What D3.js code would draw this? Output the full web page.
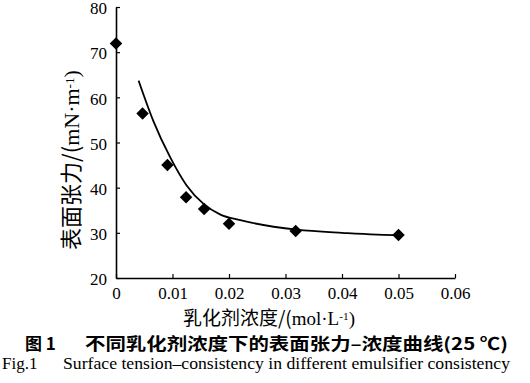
<!DOCTYPE html>
<html><head><meta charset="utf-8">
<script src="https://cdn.jsdelivr.net/npm/d3@7"></script>
<style>body{margin:0;background:#fff}svg{display:block}</style>
</head><body>
<script>
// Data
const concX = [0, 0.0047, 0.0091, 0.0124, 0.0156, 0.0200, 0.0318, 0.0500];
const tensionY = [71.9, 56.4, 45.0, 37.9, 35.3, 32.0, 30.4, 29.5];
const fitX = [0.0040, 0.0066, 0.0096, 0.0125, 0.0155, 0.0184, 0.0220, 0.0320, 0.0400, 0.0500, 0.0508];
const fitY = [63.7, 54.8, 46.7, 40.5, 36.4, 34.1, 32.8, 30.7, 30.0, 29.5, 29.5];
const xTicks = [0, 0.01, 0.02, 0.03, 0.04, 0.05, 0.06];
const xTickLabels = ["0", "0.01", "0.02", "0.03", "0.04", "0.05", "0.06"];
const yTicks = [20, 30, 40, 50, 60, 70, 80];

const W = 530, H = 383;
const svg = d3.select("body").append("svg").attr("width", W).attr("height", H);
const x = d3.scaleLinear().domain([0, 0.06]).range([116, 455]);
const y = d3.scaleLinear().domain([20, 80]).range([278, 7]);
const serif = "Liberation Serif";
const cjk = "Noto Sans CJK SC";

// axes
const xAxis = d3.axisBottom(x).tickValues(xTicks).tickSizeInner(-4).tickSizeOuter(0)
  .tickFormat((d, i) => xTickLabels[i]).tickPadding(9);
const gx = svg.append("g").attr("transform", `translate(0,${y(20)})`).call(xAxis);
const yAxis = d3.axisLeft(y).tickValues(yTicks).tickSizeInner(-4).tickSizeOuter(0).tickPadding(9);
const gy = svg.append("g").attr("transform", `translate(${x(0)},0)`).call(yAxis);
[gx, gy].forEach(g => {
  g.attr("font-family", serif).attr("font-size", 17);
  g.select(".domain").attr("stroke", "#000").attr("stroke-width", 1.6);
  g.selectAll(".tick line").attr("stroke", "#000").attr("stroke-width", 1.2);
  g.selectAll(".tick text").attr("fill", "#000").attr("font-family", serif).attr("font-size", 17);
});
gy.selectAll(".tick text").attr("dy", "0.4em");
gx.selectAll(".tick text").attr("dy", "0.71em");

// fitted curve
svg.append("path")
  .datum(fitX.map((v, i) => [v, fitY[i]]))
  .attr("fill", "none").attr("stroke", "#000").attr("stroke-width", 1.8)
  .attr("d", d3.line().x(d => x(d[0])).y(d => y(d[1])).curve(d3.curveMonotoneX));

// data points (diamonds)
svg.append("g").selectAll("path").data(concX.map((v, i) => [v, tensionY[i]])).join("path")
  .attr("transform", d => `translate(${x(d[0])},${y(d[1])}) rotate(45)`)
  .attr("d", d3.symbol(d3.symbolSquare, 78)())
  .attr("fill", "#000");

// axis titles, sized to span the same length as in the reference
function unitLabel(sel, cn, unit, target, size) {
  sel.attr("font-family", cjk).attr("font-size", size).attr("fill", "#000").attr("text-anchor", "middle");
  sel.append("tspan").text(cn);
  sel.append("tspan").attr("font-family", serif).text(unit);
  sel.append("tspan").attr("dy", "-0.4em").attr("font-size", "0.6em").attr("font-family", serif).text("-1");
  sel.append("tspan").attr("dy", "0.24em").attr("font-family", serif).text(")");
  const L = sel.node().getComputedTextLength();
  if (L > 0) sel.attr("font-size", size * target / L);
}
const yt = svg.append("text").attr("transform", `translate(79,160) rotate(-90)`);
unitLabel(yt, "表面张力/(", "mN·m", 180, 18);
const xt = svg.append("text").attr("x", 269).attr("y", 325);
unitLabel(xt, "乳化剂浓度/(", "mol·L", 172, 17);

// captions
svg.append("text").attr("x", 25).attr("y", 350)
  .attr("font-family", cjk).attr("font-size", 17).attr("font-weight", "bold").attr("fill", "#000")
  .text("图 1");
svg.append("text").attr("x", 85).attr("y", 350).attr("textLength", 423).attr("lengthAdjust", "spacingAndGlyphs")
  .attr("font-family", cjk).attr("font-size", 17).attr("font-weight", "bold").attr("fill", "#000")
  .text("不同乳化剂浓度下的表面张力–浓度曲线(25 ℃)");
svg.append("text").attr("x", 2).attr("y", 369)
  .attr("font-family", serif).attr("font-size", 17).attr("fill", "#000")
  .text("Fig.1");
svg.append("text").attr("x", 63).attr("y", 369).attr("textLength", 447).attr("lengthAdjust", "spacingAndGlyphs")
  .attr("font-family", serif).attr("font-size", 17).attr("fill", "#000")
  .text("Surface tension–consistency in different emulsifier consistency");
</script>
</body></html>
